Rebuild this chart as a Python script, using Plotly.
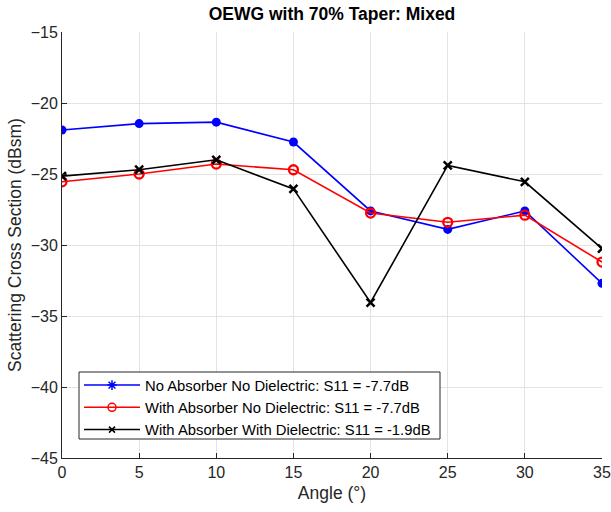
import plotly.graph_objects as go

angles = [0, 5, 10, 15, 20, 25, 30, 35]
no_abs_no_diel = [-21.9, -21.45, -21.35, -22.75, -27.6, -28.9, -27.6, -32.7]
abs_no_diel = [-25.55, -25.0, -24.3, -24.7, -27.75, -28.4, -27.9, -31.2]
abs_diel = [-25.15, -24.7, -24.0, -26.05, -34.05, -24.4, -25.55, -30.25]

names = ["No Absorber No Dielectric: S11 = -7.7dB",
         "With Absorber No Dielectric: S11 = -7.7dB",
         "With Absorber With Dielectric: S11 = -1.9dB"]
x_ticks = [0, 5, 10, 15, 20, 25, 30, 35]
y_ticks = [-45, -40, -35, -30, -25, -20, -15]

fig = go.Figure()
# data traces
fig.add_trace(go.Scatter(x=angles, y=no_abs_no_diel, mode="lines+markers",
                         line=dict(color="#0000ff", width=1.6),
                         marker=dict(symbol="circle", size=9, color="#0000ff"),
                         showlegend=False))
fig.add_trace(go.Scatter(x=angles, y=abs_no_diel, mode="lines+markers",
                         line=dict(color="#ff0000", width=1.6),
                         marker=dict(symbol="circle-open", size=9, color="#ff0000",
                                     line=dict(width=2.3, color="#ff0000")),
                         showlegend=False))
fig.add_trace(go.Scatter(x=angles, y=abs_diel, mode="lines+markers",
                         line=dict(color="#000000", width=1.6),
                         marker=dict(symbol="x-thin-open", size=8, color="#000000",
                                     line=dict(width=2.5, color="#000000")),
                         showlegend=False))
# legend entries
fig.add_trace(go.Scatter(x=[None], y=[None], mode="lines+markers", name=names[0],
                         line=dict(color="#0000ff", width=1.5),
                         marker=dict(symbol="asterisk-open", size=8,
                                     line=dict(width=1.5, color="#0000ff"))))
fig.add_trace(go.Scatter(x=[None], y=[None], mode="lines+markers", name=names[1],
                         line=dict(color="#ff0000", width=1.5),
                         marker=dict(symbol="circle-open", size=8,
                                     line=dict(width=1.5, color="#ff0000"))))
fig.add_trace(go.Scatter(x=[None], y=[None], mode="lines+markers", name=names[2],
                         line=dict(color="#000000", width=1.5),
                         marker=dict(symbol="x-thin-open", size=6,
                                     line=dict(width=1.5, color="#000000"))))

L, R, T, B = 62, 9, 32, 54
PW, PH = 611 - L - R, 512 - T - B

fig.update_layout(
    width=611, height=512,
    margin=dict(l=L, r=R, t=T, b=B),
    paper_bgcolor="white", plot_bgcolor="white",
    font=dict(family="Liberation Sans, Arial, sans-serif", size=16, color="#262626"),
    title=dict(text="<b>OEWG with 70% Taper: Mixed</b>", x=(L + PW / 2) / 611, xanchor="center",
               y=1 - 14 / 512, yanchor="middle", font=dict(size=17.5, color="#000000")),
    xaxis=dict(range=[0, 35], tickvals=x_ticks, ticks="inside", ticklen=5,
               tickcolor="#262626", showline=True, linecolor="#262626", linewidth=1,
               showgrid=True, gridcolor="#e3e3e3", gridwidth=1, zeroline=False,
               automargin=False,
               title=dict(text="Angle (°)", font=dict(size=17.5), standoff=6),
               tickfont=dict(size=16)),
    yaxis=dict(range=[-45, -15], tickvals=y_ticks, ticks="inside", ticklen=5,
               tickcolor="#262626", showline=True, linecolor="#262626", linewidth=1,
               showgrid=True, gridcolor="#e3e3e3", gridwidth=1, zeroline=False,
               automargin=False,
               title=dict(text="Scattering Cross Section (dBsm)", font=dict(size=17.5), standoff=4),
               tickfont=dict(size=16)),
    legend=dict(x=(79 - L) / PW, y=(T + PH - 446) / PH, xanchor="left", yanchor="bottom",
                bgcolor="rgba(0,0,0,0)", borderwidth=0,
                font=dict(size=14.8, color="#000000"), tracegroupgap=0,
                itemwidth=56),
    shapes=[dict(type="rect", xref="paper", yref="paper", layer="above",
                 x0=(79 - L) / PW, x1=(440 - L) / PW,
                 y0=(T + PH - 439) / PH, y1=(T + PH - 372) / PH,
                 fillcolor="white", line=dict(color="#262626", width=1))],
)

fig.write_html("out.html")
